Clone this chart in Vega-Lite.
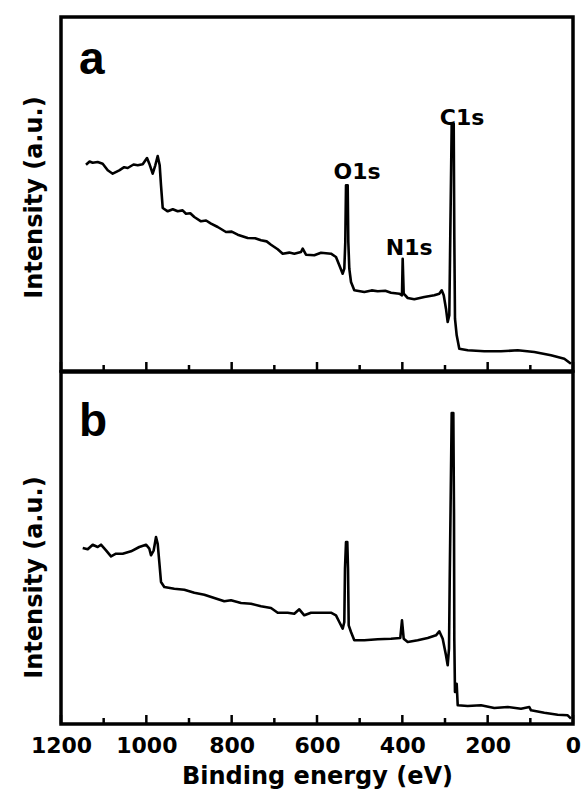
{
  "$schema": "https://vega.github.io/schema/vega-lite/v6.json",
  "autosize": {"type": "pad"},
  "padding": {"left": 20, "top": 15, "right": 5, "bottom": 5},
  "background": "white",
  "bounds": "flush",
  "spacing": 1,
  "datasets": {
    "a": [
      {"E": 1141.4, "I": 206.3}, {"E": 1133.0, "I": 209.5}, {"E": 1125.7, "I": 208.3}, {"E": 1114.0, "I": 209.0}, {"E": 1102.3, "I": 207.3}, {"E": 1090.5, "I": 200.7},
      {"E": 1078.8, "I": 197.3}, {"E": 1063.4, "I": 200.7}, {"E": 1052.0, "I": 203.8}, {"E": 1043.7, "I": 203}, {"E": 1030.0, "I": 206.5}, {"E": 1020.2, "I": 205.7},
      {"E": 1008.5, "I": 206.7}, {"E": 998.4, "I": 213}, {"E": 993.0, "I": 207.3}, {"E": 985.1, "I": 197.3},
      {"E": 979.0, "I": 205.7}, {"E": 973.4, "I": 215}, {"E": 968.7, "I": 205.7}, {"E": 965.6, "I": 185.7},
      {"E": 961.6, "I": 163}, {"E": 949.9, "I": 159.7}, {"E": 938.0, "I": 161.8}, {"E": 926.5, "I": 159.7}, {"E": 915.0, "I": 160.6}, {"E": 907.0, "I": 157.3},
      {"E": 897.0, "I": 157.8}, {"E": 887.6, "I": 154}, {"E": 871.9, "I": 149.7}, {"E": 860.0, "I": 150.5}, {"E": 848.4, "I": 147.3}, {"E": 832.7, "I": 144},
      {"E": 813.3, "I": 139}, {"E": 800.0, "I": 139.4}, {"E": 785.9, "I": 136.3}, {"E": 762.4, "I": 133}, {"E": 745.0, "I": 132.8}, {"E": 731.3, "I": 130.7},
      {"E": 718.0, "I": 129.6}, {"E": 707.8, "I": 126.3}, {"E": 692.1, "I": 121.7}, {"E": 680.4, "I": 117.3}, {"E": 665.0, "I": 118.4}, {"E": 653.2, "I": 117.3},
      {"E": 637.5, "I": 119}, {"E": 633.5, "I": 122.3}, {"E": 625.8, "I": 116.3}, {"E": 606.3, "I": 115.7},
      {"E": 590.6, "I": 118.3}, {"E": 567.2, "I": 117.3}, {"E": 555.5, "I": 114}, {"E": 547.7, "I": 105.7},
      {"E": 539.8, "I": 97.3}, {"E": 536.0, "I": 102.3}, {"E": 533.7, "I": 129}, {"E": 532.0, "I": 185.7},
      {"E": 528.1, "I": 185.7}, {"E": 526.6, "I": 129}, {"E": 524.3, "I": 102.3}, {"E": 520.3, "I": 89},
      {"E": 512.6, "I": 80.7}, {"E": 489.1, "I": 79}, {"E": 472.0, "I": 80.6}, {"E": 457.7, "I": 79.7}, {"E": 440.0, "I": 80.2}, {"E": 426.6, "I": 78.3},
      {"E": 407.1, "I": 77.3}, {"E": 400.8, "I": 75.7}, {"E": 399.2, "I": 112.3}, {"E": 396.8, "I": 77.3},
      {"E": 387.4, "I": 73}, {"E": 372.0, "I": 71.7}, {"E": 348.5, "I": 74}, {"E": 325.1, "I": 75.7},
      {"E": 313.4, "I": 77.3}, {"E": 307.7, "I": 80.7}, {"E": 303.0, "I": 75.7}, {"E": 297.7, "I": 62.3},
      {"E": 293.7, "I": 49}, {"E": 289.9, "I": 55.7}, {"E": 287.6, "I": 135.7}, {"E": 284.3, "I": 247.3},
      {"E": 279.6, "I": 247.3}, {"E": 278.2, "I": 135.7}, {"E": 276.6, "I": 52.3}, {"E": 272.6, "I": 35.7},
      {"E": 266.5, "I": 22.3}, {"E": 246.8, "I": 20.7}, {"E": 207.9, "I": 19.7}, {"E": 168.8, "I": 19.7},
      {"E": 129.6, "I": 20.7}, {"E": 90.7, "I": 19}, {"E": 51.6, "I": 15.7}, {"E": 20.4, "I": 12.3},
      {"E": 4.7, "I": 7.3}
    ],
    "b": [
      {"E": 1149.1, "I": 176}, {"E": 1137.4, "I": 174.7}, {"E": 1125.7, "I": 179.3}, {"E": 1114.0, "I": 177},
      {"E": 1106.3, "I": 179.3}, {"E": 1094.5, "I": 173.7}, {"E": 1082.8, "I": 167.7}, {"E": 1071.1, "I": 170.3},
      {"E": 1055.4, "I": 170.3}, {"E": 1035.9, "I": 172.7}, {"E": 1016.5, "I": 177}, {"E": 1000.8, "I": 179.3},
      {"E": 993.0, "I": 175.3}, {"E": 989.1, "I": 168.7}, {"E": 982.7, "I": 173.7}, {"E": 977.3, "I": 187},
      {"E": 973.4, "I": 180.3}, {"E": 969.6, "I": 162}, {"E": 965.6, "I": 142}, {"E": 957.9, "I": 137},
      {"E": 934.5, "I": 135.3}, {"E": 911.0, "I": 134.3}, {"E": 887.6, "I": 131.3}, {"E": 864.1, "I": 129.3},
      {"E": 840.7, "I": 126}, {"E": 817.3, "I": 122.7}, {"E": 801.6, "I": 123.7}, {"E": 778.1, "I": 121},
      {"E": 754.7, "I": 120.3}, {"E": 731.3, "I": 117.7}, {"E": 707.8, "I": 116}, {"E": 692.1, "I": 111.3},
      {"E": 668.7, "I": 111.3}, {"E": 653.2, "I": 110.3}, {"E": 641.5, "I": 114.7}, {"E": 629.8, "I": 108.7},
      {"E": 614.1, "I": 111.3}, {"E": 590.6, "I": 111.3}, {"E": 567.2, "I": 111.3}, {"E": 555.5, "I": 108.7},
      {"E": 547.7, "I": 102}, {"E": 539.8, "I": 95.3}, {"E": 536.0, "I": 102}, {"E": 534.4, "I": 155.3},
      {"E": 532.0, "I": 182}, {"E": 529.0, "I": 182}, {"E": 527.3, "I": 155.3}, {"E": 525.7, "I": 98.7},
      {"E": 520.3, "I": 92}, {"E": 512.6, "I": 83.7}, {"E": 489.1, "I": 83.7}, {"E": 457.7, "I": 84.7},
      {"E": 426.6, "I": 85.3}, {"E": 404.8, "I": 86}, {"E": 400.8, "I": 103.7}, {"E": 396.8, "I": 85.3},
      {"E": 387.4, "I": 82}, {"E": 364.0, "I": 83.7}, {"E": 340.5, "I": 86}, {"E": 321.1, "I": 88.7},
      {"E": 313.4, "I": 92.7}, {"E": 305.4, "I": 85.3}, {"E": 297.7, "I": 68.7}, {"E": 293.7, "I": 58.7},
      {"E": 290.6, "I": 75.3}, {"E": 289.0, "I": 142}, {"E": 284.3, "I": 311}, {"E": 280.5, "I": 311},
      {"E": 278.9, "I": 208.7}, {"E": 278.2, "I": 85.3}, {"E": 276.6, "I": 32}, {"E": 272.6, "I": 40.3},
      {"E": 270.2, "I": 18.7}, {"E": 246.8, "I": 18}, {"E": 215.6, "I": 18.7}, {"E": 184.5, "I": 16},
      {"E": 153.0, "I": 17}, {"E": 121.9, "I": 15.3}, {"E": 102.4, "I": 17}, {"E": 98.4, "I": 13.7},
      {"E": 67.3, "I": 11.3}, {"E": 35.9, "I": 9.3}, {"E": 12.4, "I": 8.7}, {"E": 4.7, "I": 5.3}
    ],
    "majorTicks": [{"E": 0}, {"E": 200}, {"E": 400}, {"E": 600}, {"E": 800}, {"E": 1000}, {"E": 1200}],
    "minorTicks": [{"E": 100}, {"E": 300}, {"E": 500}, {"E": 700}, {"E": 900}, {"E": 1100}],
    "peaksA": [
      {"label": "C1s", "E": 260, "I": 246},
      {"label": "O1s", "E": 506, "I": 192},
      {"label": "N1s", "E": 384, "I": 116}
    ],
    "panelA": [{"label": "a", "E": 1158, "I": 297}],
    "panelB": [{"label": "b", "E": 1158, "I": 288}]
  },
  "vconcat": [
    {
      "width": 512,
      "height": 354,
      "layer": [
        {
          "data": {"name": "a"},
          "mark": {"type": "line", "color": "black", "strokeWidth": 2.6, "strokeJoin": "round"},
          "encoding": {
            "x": {"field": "E", "type": "quantitative",
                  "scale": {"domain": [0, 1200], "reverse": true, "nice": false},
                  "axis": null},
            "y": {"field": "I", "type": "quantitative",
                  "scale": {"domain": [0, 354], "nice": false, "zero": false},
                  "axis": {"title": "Intensity (a.u.)", "labels": false, "ticks": false, "domain": false, "grid": false,
                           "titleFont": "DejaVu Sans", "titleFontWeight": "bold", "titleFontSize": 24, "titleColor": "black",
                           "titleX": -15, "titleY": 180, "titleBaseline": "bottom", "titleAngle": -90}}
          }
        },
        {
          "data": {"name": "majorTicks"},
          "mark": {"type": "rule", "color": "black", "strokeWidth": 2.5, "y2Offset": -9},
          "encoding": {
            "x": {"field": "E", "type": "quantitative"},
            "y": {"datum": 0},
            "y2": {"datum": 0}
          }
        },
        {
          "data": {"name": "minorTicks"},
          "mark": {"type": "rule", "color": "black", "strokeWidth": 2.5, "y2Offset": -6},
          "encoding": {
            "x": {"field": "E", "type": "quantitative"},
            "y": {"datum": 0},
            "y2": {"datum": 0}
          }
        },
        {
          "data": {"name": "peaksA"},
          "mark": {"type": "text", "font": "DejaVu Sans", "fontWeight": "bold", "fontSize": 22, "align": "center", "baseline": "alphabetic", "color": "black"},
          "encoding": {
            "x": {"field": "E", "type": "quantitative"},
            "y": {"field": "I", "type": "quantitative"},
            "text": {"field": "label"}
          }
        },
        {
          "data": {"name": "panelA"},
          "mark": {"type": "text", "font": "Liberation Sans", "fontWeight": "bold", "fontSize": 46, "align": "left", "baseline": "alphabetic", "color": "black"},
          "encoding": {
            "x": {"field": "E", "type": "quantitative"},
            "y": {"field": "I", "type": "quantitative"},
            "text": {"field": "label"}
          }
        }
      ]
    },
    {
      "width": 512,
      "height": 352,
      "layer": [
        {
          "data": {"name": "b"},
          "mark": {"type": "line", "color": "black", "strokeWidth": 2.6, "strokeJoin": "round"},
          "encoding": {
            "x": {"field": "E", "type": "quantitative",
                  "scale": {"domain": [0, 1200], "reverse": true, "nice": false},
                  "axis": {"values": [0,200,400,600,800,1000,1200],
                           "format": "d",
                           "labelOverlap": false, "labelFlush": false,
                           "labelFont": "DejaVu Sans", "labelFontWeight": "bold", "labelFontSize": 22, "labelColor": "black",
                           "labelPadding": 11,
                           "domain": false, "grid": false, "ticks": false, "tickSize": 8,
                           "title": "Binding energy (eV)",
                           "titleFont": "DejaVu Sans", "titleFontWeight": "bold", "titleFontSize": 24, "titleColor": "black",
                           "titlePadding": 8}},
            "y": {"field": "I", "type": "quantitative",
                  "scale": {"domain": [0, 352], "nice": false, "zero": false},
                  "axis": {"title": "Intensity (a.u.)", "labels": false, "ticks": false, "domain": false, "grid": false,
                           "titleFont": "DejaVu Sans", "titleFontWeight": "bold", "titleFontSize": 24, "titleColor": "black",
                           "titleX": -15, "titleY": 205, "titleBaseline": "bottom", "titleAngle": -90}}
          }
        },
        {
          "data": {"name": "majorTicks"},
          "mark": {"type": "rule", "color": "black", "strokeWidth": 2.5, "y2Offset": -9},
          "encoding": {
            "x": {"field": "E", "type": "quantitative"},
            "y": {"datum": 0},
            "y2": {"datum": 0}
          }
        },
        {
          "data": {"name": "minorTicks"},
          "mark": {"type": "rule", "color": "black", "strokeWidth": 2.5, "y2Offset": -6},
          "encoding": {
            "x": {"field": "E", "type": "quantitative"},
            "y": {"datum": 0},
            "y2": {"datum": 0}
          }
        },
        {
          "data": {"name": "panelB"},
          "mark": {"type": "text", "font": "Liberation Sans", "fontWeight": "bold", "fontSize": 46, "align": "left", "baseline": "alphabetic", "color": "black"},
          "encoding": {
            "x": {"field": "E", "type": "quantitative"},
            "y": {"field": "I", "type": "quantitative"},
            "text": {"field": "label"}
          }
        }
      ]
    }
  ],
  "config": {
    "view": {"stroke": "black", "strokeWidth": 3.5},
    "axis": {"labelFont": "DejaVu Sans", "titleFont": "DejaVu Sans"}
  }
}
